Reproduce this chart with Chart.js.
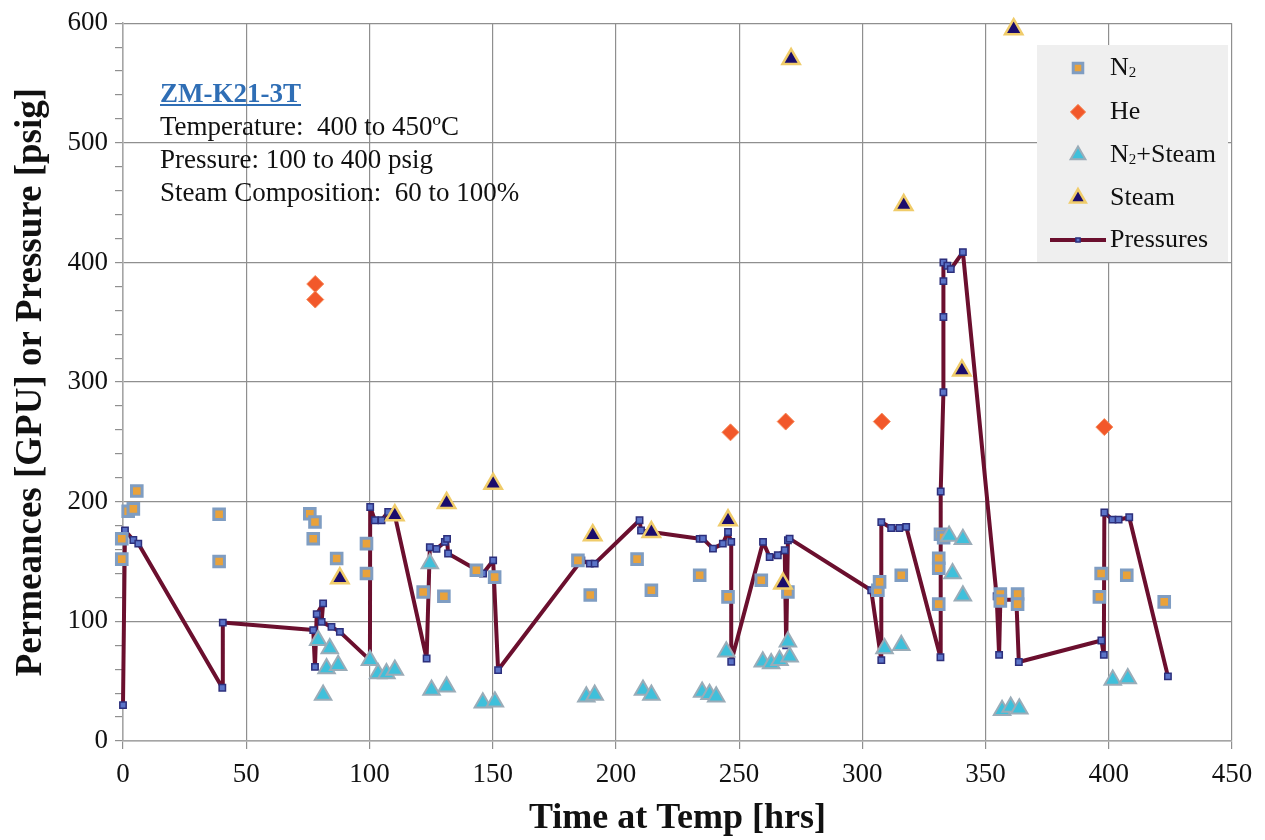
<!DOCTYPE html>
<html>
<head>
<meta charset="utf-8">
<script src="https://cdn.jsdelivr.net/npm/chart.js@4.4.1/dist/chart.umd.min.js"></script>
<style>
html,body{margin:0;padding:0;background:#ffffff;}
#wrap{position:relative;width:1265px;height:840px;overflow:hidden;}
#c{position:absolute;left:0;top:0;}
#note{position:absolute;left:160px;top:77px;font-family:'Liberation Serif','Times New Roman',serif;font-size:27px;line-height:33px;color:#111;white-space:pre;}
#note .ttl{font-weight:bold;color:#2f6eb5;text-decoration:underline;}
</style>
</head>
<body>
<div id="wrap">
<canvas id="c" width="1265" height="840"></canvas>
<div id="note"><span class="ttl">ZM-K21-3T</span>
Temperature:  400 to 450ºC
Pressure: 100 to 400 psig
Steam Composition:  60 to 100%</div>
</div>
<script>
// ---- data (x = Time at Temp [hrs], y = Permeance [GPU] or Pressure [psig]) ----
const xTicks = [0, 50, 100, 150, 200, 250, 300, 350, 400, 450];
const yTicks = [0, 100, 200, 300, 400, 500, 600];

const n2Points = [
  [-0.5,152],[-0.5,169],[2.1,192],[4.2,194],[5.6,209],[39,189.5],[39,150],
  [75.8,190],[77.9,183],[77.2,169],[86.7,152.5],[98.8,165],[98.8,140],
  [121.8,124.6],[130.2,121],[143.4,142.7],[150.8,137],[184.6,151],[189.6,122],
  [208.6,152],[214.4,126],[234,138.6],[245.5,120.5],[259,134.4],[269.8,124.6],
  [306.3,126],[307,133],[315.8,138.6],[331.7,172.8],[333,170],[331,152.8],
  [331,144.4],[331,114.4],[356,122.9],[356,117],[363,122.9],[363,114.4],
  [396.9,140],[396.2,120.5],[407.3,138.6],[422.5,116.3]
];
const hePoints = [
  [78,382],[78,369],[246.5,258],[268.9,267],[307.9,267],[398.2,262.4]
];
const n2SteamPoints = [
  [79.2,84.3],[83.9,77.4],[82.6,60.7],[87.3,63.4],[81.2,38.4],[100.2,67.6],
  [103.5,56.5],[106.9,56.5],[110.3,59.3],[124.5,148.3],[125.2,42.6],[131.3,45.3],
  [146,32],[150.9,32.8],[188,37],[191.4,38.4],[211,42.6],[214.4,38.4],
  [235,41],[238,39],[240.7,37],[244.8,74.5],[259.6,66.2],[263,64.8],[266.4,67.6],
  [270.5,70.4],[269.8,82.9],[309,77.4],[315.8,80.1],[335.2,171.4],[340.8,168.6],
  [336.6,140],[340.8,121.4],[356.7,25.6],[360.2,28.5],[363.7,27],[401.6,51],[407.7,52.3]
];
const steamPoints = [
  [88,136],[110.3,188.6],[131.3,199],[150.2,215],[190.6,172],[214.4,174.7],
  [245.5,184.5],[267.8,131.6],[271.1,570],[316.8,448],[340.4,309.7],[361.4,595]
];
const pressurePoints = [
  [0,30],[0.8,176],[4.2,168],[6.2,165],[40.3,44.5],[40.5,99],[77.2,92.7],
  [77.9,62],[78.6,106],[81.2,115],[80.6,99.6],[84.6,95.4],[88,91.2],[100.2,67.6],
  [100.3,195.6],[102.2,184.5],[104.9,184.5],[107.6,191.4],[110.3,188.6],[123.2,69],
  [124.5,162],[127.2,160.6],[130.6,166.4],[131.5,169],[131.9,156.7],[146.1,140],
  [150.2,151],[152.2,59.3],[186,151],[189.4,148.3],[191.4,148.3],[209.6,184.5],
  [210.2,176],[214.4,174.7],[234,169],[235.3,169.2],[239.4,160.8],[243.4,165],
  [245.5,174.7],[246.8,166.4],[246.8,66.2],[259.7,166.4],[262.4,153.8],[265.7,155.3],
  [268.5,159.4],[269.1,80],[269.8,167.8],[270.5,169.2],[303.6,126],[307.7,67.6],
  [307.7,183],[311.7,178],[315,178],[317.8,179],[331.7,70],[331.8,208.6],[332.9,291.5],
  [332.9,354.4],[332.9,384.4],[332.9,400],[334.5,397.3],[335.9,394.4],[340.8,408.7],
  [354.5,121],[355.5,72],[356,118],[362.5,118],[363.5,66],[397,84],[398,72],
  [398.2,191],[401.5,185],[404,185],[408.3,187],[424,54]
];
const seriesNames = ['N2', 'He', 'N2+Steam', 'Steam', 'Pressures'];

// ---- styles ----
const FONT = "'Liberation Serif','Times New Roman',serif";
const toXY = arr => arr.map(p => ({x: p[0], y: p[1]}));

const STY = {
  n2:      {pointStyle:'rect',     radius:7.5, bg:'#e9a23b', border:'#7f9dc2', bw:3},
  he:      {pointStyle:'rectRot',  radius:8.5, bg:'#f2582a', border:'#f58a5a', bw:1},
  n2steam: {pointStyle:'triangle', radius:9.5, bg:'#3fc0db', border:'#9aacb8', bw:2},
  steam:   {pointStyle:'triangle', radius:10,  bg:'#1b0c6c', border:'#f0cc6a', bw:2.5},
  press:   {pointStyle:'rect',     radius:4.5, bg:'#5b74c8', border:'#2c2f7c', bw:1.5, line:'#6b0f2e'}
};

function ds(label, pts, s, extra) {
  return Object.assign({
    label: label, data: toXY(pts),
    pointStyle: s.pointStyle, pointRadius: s.radius,
    backgroundColor: s.bg, borderColor: s.border,
    pointBackgroundColor: s.bg, pointBorderColor: s.border, pointBorderWidth: s.bw,
    showLine: false, clip: false
  }, extra || {});
}

// custom legend drawn inside the plot
function drawMarker(ctx, s, x, y) {
  ctx.save();
  ctx.fillStyle = s.bg; ctx.strokeStyle = s.border; ctx.lineWidth = s.bw;
  ctx.beginPath();
  const r = s.radius;
  if (s.pointStyle === 'rect') {
    const h = r * Math.SQRT1_2;
    ctx.rect(x - h, y - h, 2*h, 2*h);
  } else if (s.pointStyle === 'rectRot') {
    ctx.moveTo(x, y - r); ctx.lineTo(x + r, y); ctx.lineTo(x, y + r); ctx.lineTo(x - r, y); ctx.closePath();
  } else if (s.pointStyle === 'triangle') {
    ctx.moveTo(x, y - r);
    ctx.lineTo(x + r*Math.sin(Math.PI/3), y + r/2);
    ctx.lineTo(x - r*Math.sin(Math.PI/3), y + r/2);
    ctx.closePath();
  }
  ctx.fill(); ctx.stroke();
  ctx.restore();
}

const legendPlugin = {
  id: 'insideLegend',
  afterDatasetsDraw(chart) {
    const ctx = chart.ctx;
    const bx = 1037, by = 45, bw = 191, bh = 217;
    ctx.save();
    ctx.fillStyle = '#efefef';
    ctx.fillRect(bx, by, bw, bh);
    const mx = 1078, tx = 1110;
    const rows = [68, 112, 155, 198, 240];
    const styles = [STY.n2, STY.he, STY.n2steam, STY.steam];
    ctx.textBaseline = 'middle';
    ctx.textAlign = 'left';
    for (let i = 0; i < 4; i++) {
      drawMarker(ctx, Object.assign({}, styles[i], {radius: styles[i].radius * 0.9}), mx, rows[i]);
    }
    // pressures line
    ctx.strokeStyle = STY.press.line; ctx.lineWidth = 4;
    ctx.beginPath(); ctx.moveTo(1050, rows[4]); ctx.lineTo(1106, rows[4]); ctx.stroke();
    drawMarker(ctx, Object.assign({}, STY.press, {radius: 3}), mx, rows[4]);
    // labels
    ctx.fillStyle = '#111';
    const big = "26px " + FONT, small = "15px " + FONT;
    function labelN2(rest, y) {
      ctx.font = big; ctx.fillText('N', tx, y);
      const w = ctx.measureText('N').width;
      ctx.font = small; ctx.fillText('2', tx + w, y + 5);
      const w2 = ctx.measureText('2').width;
      if (rest) { ctx.font = big; ctx.fillText(rest, tx + w + w2, y); }
    }
    labelN2('', rows[0]);
    ctx.font = big; ctx.fillText('He', tx, rows[1]);
    labelN2('+Steam', rows[2]);
    ctx.font = big; ctx.fillText('Steam', tx, rows[3]);
    ctx.font = big; ctx.fillText('Pressures', tx, rows[4]);
    ctx.restore();
  }
};

const chart = new Chart(document.getElementById('c'), {
  type: 'scatter',
  data: {
    datasets: [
      ds(seriesNames[3], steamPoints, STY.steam),
      ds(seriesNames[2], n2SteamPoints, STY.n2steam),
      ds(seriesNames[0], n2Points, STY.n2),
      ds(seriesNames[1], hePoints, STY.he),
      ds(seriesNames[4], pressurePoints, STY.press, {
        showLine: true, borderColor: STY.press.line, borderWidth: 4, tension: 0,
        borderJoinStyle: 'round', borderCapStyle: 'round',
        backgroundColor: STY.press.bg
      })
    ]
  },
  options: {
    responsive: false,
    animation: false,
    layout: { padding: { top: 22, right: 33, bottom: 0, left: 0 } },
    plugins: { legend: { display: false }, tooltip: { enabled: false } },
    scales: {
      x: {
        type: 'linear', min: xTicks[0], max: xTicks[xTicks.length - 1],
        afterFit(s) { s.height = 99; },
        afterBuildTicks(s) { s.ticks = xTicks.map(v => ({value: v})); },
        ticks: { color: '#111', font: { family: FONT, size: 27 }, padding: 10, maxRotation: 0, autoSkip: false },
        grid: { color: '#8f8f8f', tickColor: '#8f8f8f', tickLength: 8, lineWidth: 1.2 },
        border: { color: '#a5a5a5', width: 1.5 },
        title: { display: true, text: 'Time at Temp [hrs]', color: '#111',
                 font: { family: FONT, size: 36, weight: 'bold' }, padding: { top: 0, bottom: 0 } }
      },
      y: {
        type: 'linear', min: yTicks[0], max: yTicks[yTicks.length - 1],
        afterFit(s) { s.width = 123; },
        ticks: { stepSize: 20, autoSkip: false, color: '#111', font: { family: FONT, size: 27 }, padding: 7,
                 callback: v => (yTicks.indexOf(v) >= 0 ? String(v) : '') },
        grid: { color: c => (c.tick && yTicks.indexOf(c.tick.value) >= 0) ? '#8f8f8f' : 'rgba(0,0,0,0)',
                tickColor: '#8f8f8f', tickLength: 8, lineWidth: 1.2 },
        border: { color: '#a5a5a5', width: 1.5 },
        title: { display: true, text: 'Permeances [GPU] or Pressure [psig]', color: '#111',
                 font: { family: FONT, size: 37, weight: 'bold' }, padding: { top: 9, bottom: 0 } }
      }
    }
  },
  plugins: [legendPlugin]
});
</script>
</body>
</html>
